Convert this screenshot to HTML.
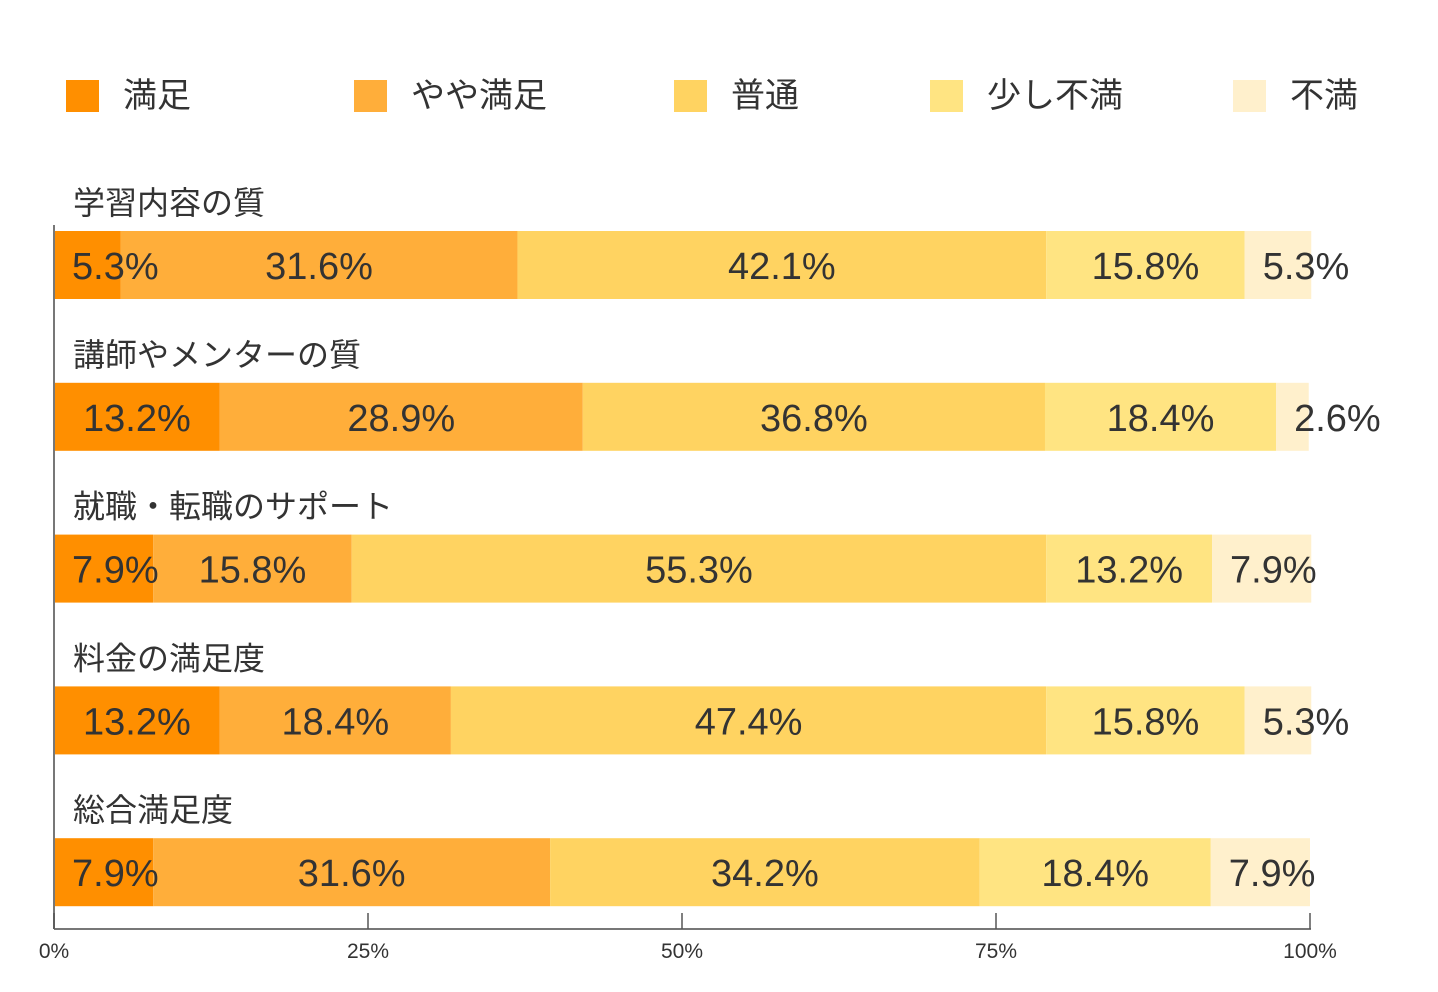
<!DOCTYPE html>
<html><head><meta charset="utf-8"><style>
body{margin:0;background:#fff;}
svg{display:block;font-family:"Liberation Sans","Noto Sans CJK JP",sans-serif;}
</style></head><body>
<svg id="chart" width="1438" height="992" viewBox="0 0 1438 992"></svg>
<script>
const categories=["学習内容の質","講師やメンターの質","就職・転職のサポート","料金の満足度","総合満足度"];
const seriesNames=["満足","やや満足","普通","少し不満","不満"];
const s1=[5.3,13.2,7.9,13.2,7.9];
const s2=[31.6,28.9,15.8,18.4,31.6];
const s3=[42.1,36.8,55.3,47.4,34.2];
const s4=[15.8,18.4,13.2,15.8,18.4];
const s5=[5.3,2.6,7.9,5.3,7.9];
const ticks=[0,25,50,75,100];
const tickLabels=["0%","25%","50%","75%","100%"];
const colors=["#ff8f00","#ffae3a","#ffd361","#ffe482","#fff0cc"];
const series=[s1,s2,s3,s4,s5];
const NS="http://www.w3.org/2000/svg";
const svg=document.getElementById("chart");
const x0=54,x1=1310;
const xs=v=>x0+(x1-x0)*v/100;
const rowTop=i=>231+i*151.8;
const barH=68;
function mk(t,a,p){const e=document.createElementNS(NS,t);for(const k in a)e.setAttribute(k,a[k]);(p||svg).appendChild(e);return e;}
// legend
const legX=[66,354,674,930,1233];
seriesNames.forEach((n,i)=>{
 const g=mk("g",{});
 
 
 mk("rect",{x:legX[i],y:80,width:33,height:32,fill:colors[i]},g);
 const t=mk("text",{x:legX[i]+57,y:107,"font-size":34,fill:"#333"},g);
 t.textContent=n;
});
categories.forEach((c,i)=>{
 const y=rowTop(i);
 const lab=mk("text",{x:73,y:y-17,"font-size":32,fill:"#333"});
 
 
 lab.textContent=c;
 let acc=0;
 series.forEach((s,j)=>{
  const v=s[i];
  const l=xs(acc),r=xs(acc+v);acc+=v;
  const rc=mk("rect",{x:l,y:y,width:r-l,height:barH,fill:colors[j]});
  
  
 });
 acc=0;
 series.forEach((s,j)=>{
  const v=s[i];
  const l=xs(acc),r=xs(acc+v);acc+=v;
  const t=mk("text",{x:(l+r)/2,y:y+48,"font-size":38,fill:"#333","text-anchor":"middle"});
  
  
  t.textContent=v.toFixed(1)+"%";
  const w=t.getComputedTextLength();
  if((l+r)/2-w/2<l+18){t.setAttribute("text-anchor","start");t.setAttribute("x",l+18);}
 });
});
// axis
const ax=mk("g",{});


mk("line",{x1:x0,y1:225,x2:x0,y2:929,stroke:"#777","stroke-width":2},ax);
mk("line",{x1:x0,y1:929,x2:x1+1,y2:929,stroke:"#777","stroke-width":2},ax);
ticks.forEach((v,i)=>{
 mk("line",{x1:xs(v),y1:913,x2:xs(v),y2:929,stroke:"#555","stroke-width":1.5},ax);
 const t=mk("text",{x:xs(v),y:958,"font-size":21,fill:"#333","text-anchor":"middle"},ax);
 
 
 t.textContent=tickLabels[i];
});
</script>
</body></html>
